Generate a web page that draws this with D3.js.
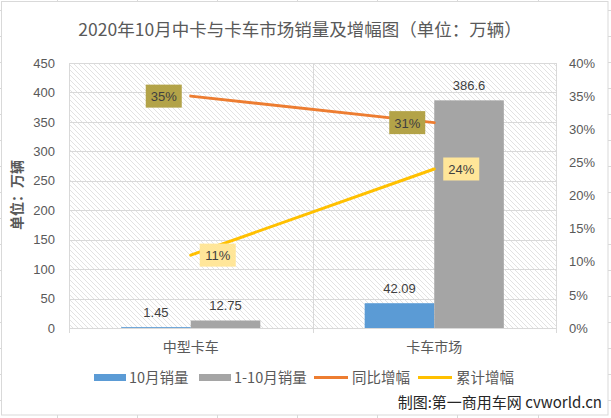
<!DOCTYPE html>
<html><head><meta charset="utf-8">
<script src="https://cdn.jsdelivr.net/npm/d3@7/dist/d3.min.js"></script>
<style>
html,body{margin:0;padding:0;background:#fff;}
svg{display:block;}
text{font-family:"Noto Sans CJK SC","Noto Sans",sans-serif;}
.num{font-family:"Liberation Sans","Noto Sans",sans-serif;}
</style></head>
<body>
<svg id="c" width="611" height="418"></svg>
<script>
const categories = ["中型卡车", "卡车市场"];
const barSeries = ["10月销量", "1-10月销量"];
const octSales = [1.45, 42.09];
const ytdSales = [12.75, 386.6];
const yoyGrowth = [0.35, 0.31];
const cumGrowth = [0.11, 0.24];
const leftTicks = [0, 50, 100, 150, 200, 250, 300, 350, 400, 450];
const rightTicks = [0, 0.05, 0.10, 0.15, 0.20, 0.25, 0.30, 0.35, 0.40];
const titleText = "2020年10月中卡与卡车市场销量及增幅图（单位：万辆）";
const yTitle = "单位：万辆";
const credit = "制图:第一商用车网 cvworld.cn";

const svg = d3.select("#c");
const W = 611, H = 418;

// spreadsheet cell lines behind chart
const bg = svg.append("g");
[57,137,217,297,377,457,538].forEach(x=>bg.append("line").attr("x1",x+0.5).attr("x2",x+0.5).attr("y1",0).attr("y2",H).attr("stroke","#d9d9d9"));
for(let yy=10;yy<H;yy+=26) bg.append("line").attr("x1",0).attr("x2",W).attr("y1",yy+0.5).attr("y2",yy+0.5).attr("stroke","#d9d9d9");
svg.append("rect").attr("x",1.5).attr("y",1.5).attr("width",606.5).attr("height",413.5).attr("fill","#fff").attr("stroke","#d9d9d9");

const defs = svg.append("defs");
const pat = defs.append("pattern").attr("id","hatch").attr("patternUnits","userSpaceOnUse").attr("width",5).attr("height",5);
pat.append("rect").attr("width",5).attr("height",5).attr("fill","#fff");
pat.append("path").attr("d","M-1,-1 L6,6 M-1,4 L1,6 M4,-1 L6,1").attr("stroke","#dadada").attr("stroke-width",0.8);

const L = 69, R = 556, T = 63, B = 328;
const x0 = d3.scaleBand().domain(categories).range([L, R]).padding(0);
const x1 = d3.scaleBand().domain(barSeries).range([0, x0.bandwidth()]).paddingInner(0).paddingOuter(0.75);
const y = d3.scaleLinear().domain([0, 450]).range([B, T]);
const y2 = d3.scaleLinear().domain([0, 0.40]).range([B, T]);

svg.append("rect").attr("x",L).attr("y",T).attr("width",R-L).attr("height",B-T).attr("fill","url(#hatch)");

// gridlines
const grid = svg.append("g");
leftTicks.forEach(t=>grid.append("line").attr("x1",L).attr("x2",R).attr("y1",Math.round(y(t))+0.5).attr("y2",Math.round(y(t))+0.5).attr("stroke","#d9d9d9"));
const vlines = [L, x0(categories[1]), R];
vlines.forEach(v=>grid.append("line").attr("x1",Math.round(v)+0.5).attr("x2",Math.round(v)+0.5).attr("y1",T).attr("y2",B+5).attr("stroke","#d9d9d9"));

// left axis
const la = svg.append("g").attr("transform",`translate(${L-14},0)`)
  .call(d3.axisLeft(y).tickValues(leftTicks).tickSize(0).tickPadding(0));
la.select(".domain").remove();
la.selectAll("text").attr("class","num").attr("fill","#595959").style("font-size","13px");
// right axis
const ra = svg.append("g").attr("transform",`translate(${R+13},0)`)
  .call(d3.axisRight(y2).tickValues(rightTicks).tickSize(0).tickPadding(0).tickFormat(d3.format(".0%")));
ra.select(".domain").remove();
ra.selectAll("text").attr("class","num").attr("fill","#595959").style("font-size","13px");

// bars
const barColors = ["#5b9bd5", "#a5a5a5"];
const barData = [octSales, ytdSales];
const gb = svg.append("g");
barSeries.forEach((s,si)=>{
  categories.forEach((c,ci)=>{
    const v = barData[si][ci];
    const bx = x0(c)+x1(s);
    gb.append("rect").attr("x",bx).attr("y",y(v)).attr("width",x1.bandwidth()).attr("height",B-y(v)).attr("fill",barColors[si]);
    gb.append("text").attr("class","num").attr("x",bx+x1.bandwidth()/2).attr("y",y(v)-10)
      .attr("text-anchor","middle").attr("fill","#404040").style("font-size","13px").text(v);
  });
});

// lines
const cx = c => x0(c)+x0.bandwidth()/2;
const lineGen = d3.line().x(d=>cx(d.c)).y(d=>y2(d.v));
const lineSets = [
  {vals: yoyGrowth, color:"#ed7d31", box:"#b3a348", side:-1},
  {vals: cumGrowth, color:"#ffc000", box:"#ffe699", side:1}
];
lineSets.forEach(ls=>{
  const pts = categories.map((c,i)=>({c, v: ls.vals[i]}));
  svg.append("path").datum(pts).attr("d",lineGen).attr("fill","none").attr("stroke",ls.color).attr("stroke-width",3).attr("stroke-linecap","round");
});
lineSets.forEach(ls=>{
  categories.forEach((c,i)=>{
    const v = ls.vals[i];
    const bw = 36, bh = 23;
    const bxc = cx(c) + ls.side*27;
    svg.append("rect").attr("x",bxc-bw/2).attr("y",y2(v)-bh/2).attr("width",bw).attr("height",bh).attr("fill",ls.box);
    svg.append("text").attr("class","num").attr("x",bxc).attr("y",y2(v)+0.5).attr("dy","0.35em").attr("text-anchor","middle")
      .attr("fill","#404040").style("font-size","13px").text(d3.format(".0%")(v));
  });
});

// category labels
categories.forEach(c=>{
  svg.append("text").attr("x",cx(c)).attr("y",347).attr("dy","0.35em").attr("text-anchor","middle")
    .attr("fill","#595959").style("font-size","14px").text(c);
});

// title
svg.append("text").attr("x",300).attr("y",30).attr("dy","0.35em").attr("text-anchor","middle")
  .attr("fill","#595959").style("font-size","17.5px").text(titleText);
// y title
svg.append("text").attr("transform",`translate(17,195) rotate(-90)`).attr("dy","0.35em").attr("text-anchor","middle")
  .attr("fill","#595959").style("font-size","14px").style("font-weight","bold").text(yTitle);

// legend
const legendItems = [
  {name: barSeries[0], color: barColors[0], type:"rect", x:94},
  {name: barSeries[1], color: barColors[1], type:"rect", x:199},
  {name: "同比增幅", color: lineSets[0].color, type:"line", x:314},
  {name: "累计增幅", color: lineSets[1].color, type:"line", x:418}
];
const lg = svg.append("g");
legendItems.forEach(it=>{
  if(it.type==="rect") lg.append("rect").attr("x",it.x).attr("y",374).attr("width",32).attr("height",7).attr("fill",it.color);
  else lg.append("line").attr("x1",it.x).attr("x2",it.x+34).attr("y1",377.5).attr("y2",377.5).attr("stroke",it.color).attr("stroke-width",3);
  lg.append("text").attr("x",it.x+(it.type==="rect"?35:38)).attr("y",377.5).attr("dy","0.35em")
    .attr("fill","#595959").style("font-size","14.5px").text(it.name);
});

// credit
svg.append("text").attr("x",602).attr("y",403).attr("dy","0.35em").attr("text-anchor","end")
  .attr("fill","#262626").style("font-size","15px").text(credit);
</script>
</body></html>
